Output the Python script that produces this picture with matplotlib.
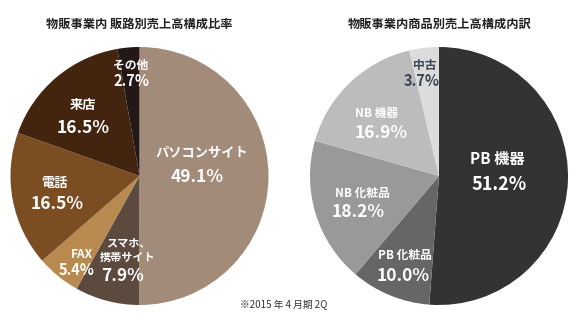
import matplotlib
matplotlib.use("Agg")
import matplotlib.pyplot as plt

plt.rcParams['font.family'] = ['Noto Sans CJK JP', 'DejaVu Sans']

# Sales channel breakdown (left pie)
channel_labels = ["パソコンサイト", "スマホ、\n携帯サイト", "FAX", "電話", "来店", "その他"]
channel_values = [49.1, 7.9, 5.4, 16.5, 16.5, 2.7]
channel_colors = ["#a28b79", "#5d4a3e", "#b88a4f", "#7b4d22", "#43250f", "#231815"]

# Product breakdown (right pie)
product_labels = ["PB 機器", "PB 化粧品", "NB 化粧品", "NB 機器", "中古"]
product_values = [51.2, 10.0, 18.2, 16.9, 3.7]
product_colors = ["#333333", "#666666", "#999999", "#bcbcbc", "#dcdcdc"]

left_title = "物販事業内 販路別売上高構成比率"
right_title = "物販事業内商品別売上高構成内訳"
footnote = "※2015 年 4 月期 2Q"

W, H = 580, 328
fig = plt.figure(figsize=(W / 100, H / 100), dpi=100)
ax = fig.add_axes([0, 0, 1, 1])


def Y(y):
    return H - y


R = 129
ax.pie(channel_values, colors=channel_colors, startangle=90, counterclock=False,
       center=(139.5, Y(176)), radius=R, frame=True,
       wedgeprops=dict(linewidth=0))
ax.pie(product_values, colors=product_colors, startangle=90, counterclock=False,
       center=(439, Y(176)), radius=R, frame=True,
       wedgeprops=dict(linewidth=0))
ax.set_xlim(0, W)
ax.set_ylim(0, H)
ax.set_aspect('equal')
ax.axis('off')

ax.text(139, Y(24), left_title, ha='center', va='center', fontsize=8.8,
        fontweight='bold', color='#222222')
ax.text(440, Y(24), right_title, ha='center', va='center', fontsize=8.8,
        fontweight='bold', color='#222222')

white = 'white'
name_fs = 9.5
pct_fs = 12.5
small_name_fs = 8.5
small_pct_fs = 10.5

# left pie labels: (name, name pos, pct pos, sizes)
left_text = [
    (channel_labels[0], (202, 152), (197, 177), name_fs, pct_fs),
    (channel_labels[4], (83, 105), (83, 128), name_fs, pct_fs),
    (channel_labels[3], (54, 183), (57, 204), name_fs, pct_fs),
    (channel_labels[5], (131, 65), (131, 81), small_name_fs, small_pct_fs),
    (channel_labels[2], (82, 255), (77, 270), small_name_fs, small_pct_fs),
]
value_of = dict(zip(channel_labels, channel_values))
for name, (nx, ny), (px, py), nfs, pfs in left_text:
    ax.text(nx, Y(ny), name, ha='center', va='center', fontsize=nfs,
            fontweight='bold', color=white)
    ax.text(px, Y(py), f"{value_of[name]:.1f}%", ha='center', va='center',
            fontsize=pfs, fontweight='bold', color=white)

# smartphone label spans two lines
ax.text(128, Y(250), channel_labels[1], ha='center', va='center', fontsize=8,
        fontweight='bold', color=white, linespacing=1.15)
ax.text(122, Y(276), f"{channel_values[1]:.1f}%", ha='center', va='center',
        fontsize=pct_fs, fontweight='bold', color=white)

right_text = [
    (product_labels[0], (497, 159), (499, 185), 11, 13, white),
    (product_labels[1], (405, 255), (403, 276), 8.5, pct_fs, white),
    (product_labels[2], (362, 193), (358, 212), 8.5, pct_fs, white),
    (product_labels[3], (377, 113), (381, 133), 8.5, pct_fs, white),
    (product_labels[4], (425, 65), (422, 81), small_name_fs, small_pct_fs, '#3c4558'),
]
pvalue_of = dict(zip(product_labels, product_values))
for name, (nx, ny), (px, py), nfs, pfs, col in right_text:
    ax.text(nx, Y(ny), name, ha='center', va='center', fontsize=nfs,
            fontweight='bold', color=col)
    ax.text(px, Y(py), f"{pvalue_of[name]:.1f}%", ha='center', va='center',
            fontsize=pfs, fontweight='bold', color=col)

ax.text(284, Y(305), footnote, ha='center', va='center', fontsize=7,
        color='#333333')

fig.savefig("out.png", dpi=100, facecolor='white')
